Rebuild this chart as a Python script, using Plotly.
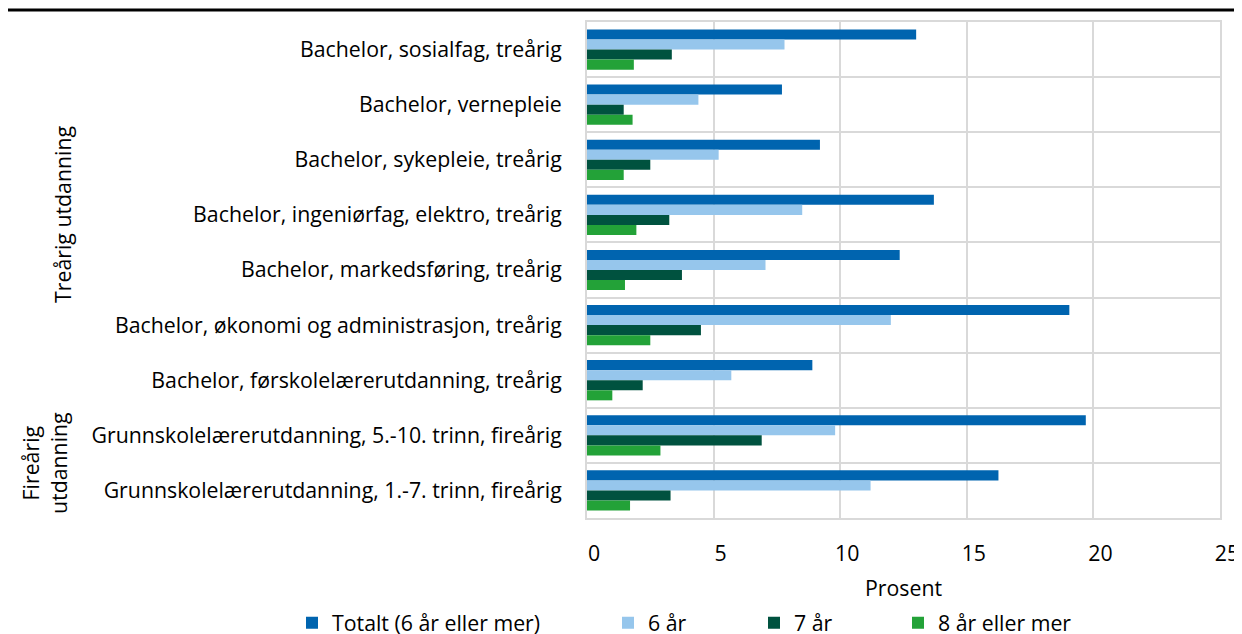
import plotly.graph_objects as go

categories = [
    "Bachelor, sosialfag, treårig",
    "Bachelor, vernepleie",
    "Bachelor, sykepleie, treårig",
    "Bachelor, ingeniørfag, elektro, treårig",
    "Bachelor, markedsføring, treårig",
    "Bachelor, økonomi og administrasjon, treårig",
    "Bachelor, førskolelærerutdanning, treårig",
    "Grunnskolelærerutdanning, 5.-10. trinn, fireårig",
    "Grunnskolelærerutdanning, 1.-7. trinn, fireårig",
]

series_names = ["Totalt (6 år eller mer)", "6 år", "7 år", "8 år eller mer"]
totalt = [13.0, 7.7, 9.2, 13.7, 12.35, 19.05, 8.9, 19.7, 16.25]
seks_aar = [7.8, 4.4, 5.2, 8.5, 7.05, 12.0, 5.7, 9.8, 11.2]
syv_aar = [3.35, 1.45, 2.5, 3.25, 3.75, 4.5, 2.2, 6.9, 3.3]
atte_aar = [1.85, 1.8, 1.45, 1.95, 1.5, 2.5, 1.0, 2.9, 1.7]

x_ticks = [0, 5, 10, 15, 20, 25]

colors = ["#0064AF", "#96C6EC", "#00523F", "#23A238"]
FONT = "Open Sans"
FS = 21.3

# page body has an 8px margin; figure sized to fit the rest of the window
OFF = 8
W, H = 1242 - OFF, 634 - OFF
ML, MT = 587 - OFF, 22 - OFF
MR = W - (1220 - OFF)
MB = H - (518 - OFF)
PW, PH = W - ML - MR, H - MT - MB


def px_x(sx):
    return (sx - OFF - ML) / PW


def px_y(sy):
    return 1 - (sy - OFF - MT) / PH


fig = go.Figure()
legend_ids = ["legend", "legend2", "legend3", "legend4"]
for name, vals, col, lid in zip(series_names, [totalt, seks_aar, syv_aar, atte_aar], colors, legend_ids):
    fig.add_trace(go.Bar(
        y=categories, x=vals, name=name, orientation="h",
        marker=dict(color=col, line=dict(width=0)),
        legend=lid,
    ))

legend_x_px = [284, 600, 746, 890]
leg_common = dict(orientation="h", xref="container", yref="container",
                  yanchor="middle", y=1 - 615 / H, xanchor="left",
                  font=dict(family=FONT, size=FS, color="#000000"),
                  bgcolor="rgba(0,0,0,0)", itemwidth=30)
layout_legends = {}
for lid, px in zip(legend_ids, legend_x_px):
    layout_legends[lid] = dict(leg_common, x=px / W)

fig.update_layout(
    width=W, height=H,
    margin=dict(l=ML, r=MR, t=MT, b=MB, autoexpand=False),
    paper_bgcolor="white", plot_bgcolor="white",
    barmode="group", bargap=0.27, bargroupgap=0,
    font=dict(family=FONT, size=FS, color="#000000"),
    showlegend=True,
    **layout_legends,
)

fig.update_xaxes(
    range=[0, 25], tickvals=x_ticks, ticktext=[str(t) for t in x_ticks],
    showgrid=True, gridcolor="#D9D9D9", gridwidth=2,
    zeroline=False, showline=True, linecolor="#D9D9D9", linewidth=2, mirror=True,
    ticks="", ticklabelstandoff=15, ticklabelshift=7, automargin=False,
    tickfont=dict(family=FONT, size=FS, color="#000000"),
    title=dict(text="Prosent", font=dict(family=FONT, size=FS, color="#000000"), standoff=24),
)
fig.update_yaxes(
    type="category", autorange="reversed", tickson="boundaries",
    showgrid=True, gridcolor="#D9D9D9", gridwidth=2,
    showline=True, linecolor="#D9D9D9", linewidth=2, mirror=True,
    ticks="", ticklabelstandoff=19, automargin=False,
    tickfont=dict(family=FONT, size=FS, color="#000000"),
)

# top rule
fig.add_shape(type="line", xref="paper", yref="paper",
              x0=px_x(OFF), x1=px_x(1242),
              y0=px_y(10), y1=px_y(10),
              line=dict(color="#000000", width=3))

# group labels
fig.add_annotation(text="Treårig utdanning", xref="paper", yref="paper",
                   x=px_x(62), y=px_y(215), xanchor="center", yanchor="middle",
                   textangle=-90, showarrow=False,
                   font=dict(family=FONT, size=FS, color="#000000"))
fig.add_annotation(text="Fireårig<br>utdanning", xref="paper", yref="paper",
                   x=px_x(44), y=px_y(463), xanchor="center", yanchor="middle",
                   textangle=-90, showarrow=False,
                   font=dict(family=FONT, size=FS, color="#000000"))

fig.write_html("out.html")
